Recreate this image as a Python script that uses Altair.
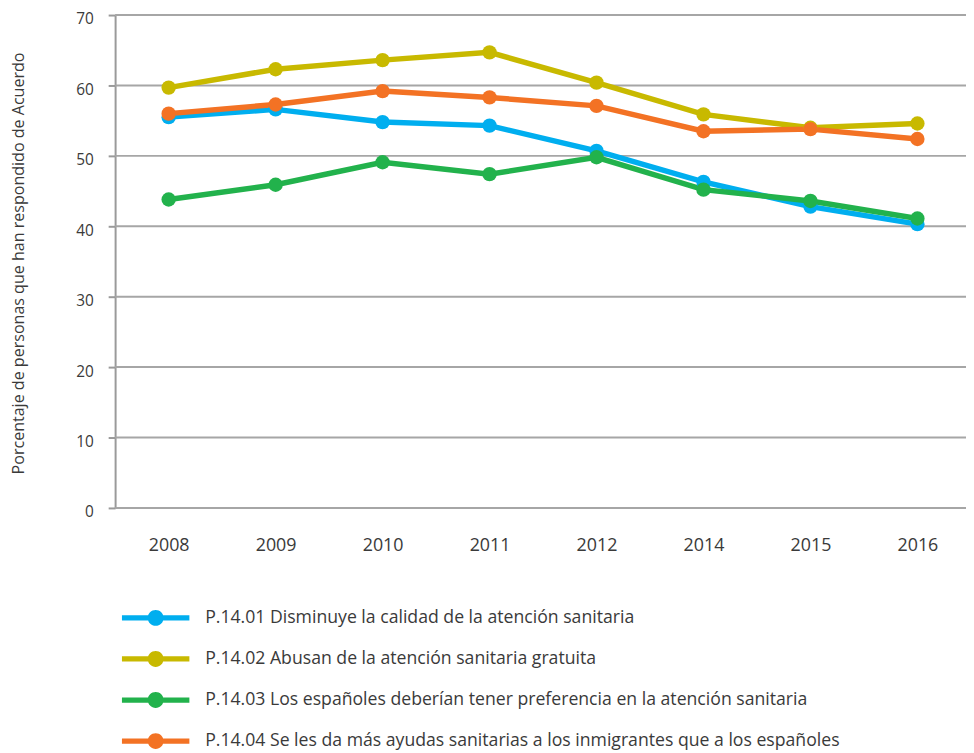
import altair as alt
import pandas as pd

years = ["2008", "2009", "2010", "2011", "2012", "2014", "2015", "2016"]
series_names = [
    "P.14.01 Disminuye la calidad de la atención sanitaria",
    "P.14.02 Abusan de la atención sanitaria gratuita",
    "P.14.03 Los españoles deberían tener preferencia en la atención sanitaria",
    "P.14.04 Se les da más ayudas sanitarias a los inmigrantes que a los españoles",
]
p1401 = [55.5, 56.6, 54.8, 54.3, 50.7, 46.3, 42.8, 40.3]
p1402 = [59.7, 62.3, 63.6, 64.7, 60.4, 55.9, 54.0, 54.6]
p1403 = [43.8, 45.9, 49.1, 47.4, 49.8, 45.2, 43.6, 41.1]
p1404 = [56.0, 57.3, 59.2, 58.3, 57.1, 53.5, 53.8, 52.4]
y_ticks = [0, 10, 20, 30, 40, 50, 60, 70]
colors = ["#00AEEF", "#C8B900", "#22B24C", "#F37224"]

rows = []
for name, vals in zip(series_names, [p1401, p1402, p1403, p1404]):
    for yr, v in zip(years, vals):
        rows.append({"year": yr, "value": v, "serie": name})
df = pd.DataFrame(rows)
grid_df = pd.DataFrame({"value": y_ticks})

FONT = "Open Sans"
TXT = "#3a3a3a"
W, H = 858, 497

sym = ("M-4.25,-0.33H4.25V0.33H-4.25Z "
       "M-1,0A1,1 0 1,1 1,0A1,1 0 1,1 -1,0Z")

color = alt.Color(
    "serie:N",
    scale=alt.Scale(domain=series_names, range=colors),
    legend=alt.Legend(
        title=None,
        orient="none",
        legendX=32,
        legendY=599,
        direction="vertical",
        symbolType=sym,
        symbolSize=256,
        symbolStrokeWidth=0,
        symbolOpacity=1,
        labelOffset=41,
        labelFont=FONT,
        labelFontSize=17.8,
        labelColor=TXT,
        labelLimit=800,
        rowPadding=22.4,
        padding=0,
    ),
)

x = alt.X(
    "year:O",
    sort=years,
    scale=alt.Scale(type="point", range=[54, 809], padding=0),
    axis=alt.Axis(title=None, labelAngle=0, ticks=False, domain=False,
                  labelPadding=29, labelFont=FONT, labelFontSize=18,
                  labelColor=TXT, grid=False),
)
y_scale = alt.Scale(domain=[0, 70], nice=False)
y = alt.Y(
    "value:Q",
    scale=y_scale,
    axis=alt.Axis(
        values=y_ticks,
        title="Porcentaje de personas que han respondido de Acuerdo",
        titleX=-97, titleY=250, titleAlign="center", titleBaseline="middle",
        titleAngle=270, titleFont=FONT, titleFontSize=16.2, titleFontWeight="normal",
        titleColor=TXT,
        labelFont=FONT, labelFontSize=15.5, labelColor=TXT, labelPadding=15,
        labelOffset=4,
        tickSize=7, tickColor="#9a9a9a", tickWidth=2,
        domainColor="#9a9a9a", domainWidth=2,
        grid=False,
    ),
)

grid = alt.Chart(grid_df).mark_rule(color="#a6a6a6", strokeWidth=2).encode(
    y=y,
    x=alt.value(0), x2=alt.value(W),
)

base = alt.Chart(df)
lines = base.mark_line(strokeWidth=5.5).encode(x=x, y=y, color=color,
                                               order=alt.Order("year:O"))
points = base.mark_point(filled=True, size=210, opacity=1).encode(
    x=x, y=y, color=color)

chart = alt.layer(grid, lines, points).properties(
    width=W, height=H,
    autosize=alt.AutoSizeParams(type="none"),
    padding={"left": 108, "top": 4, "right": 0, "bottom": 244},
).configure_view(stroke=None)

chart.save("out.html", embed_options={"renderer": "svg", "actions": False})
